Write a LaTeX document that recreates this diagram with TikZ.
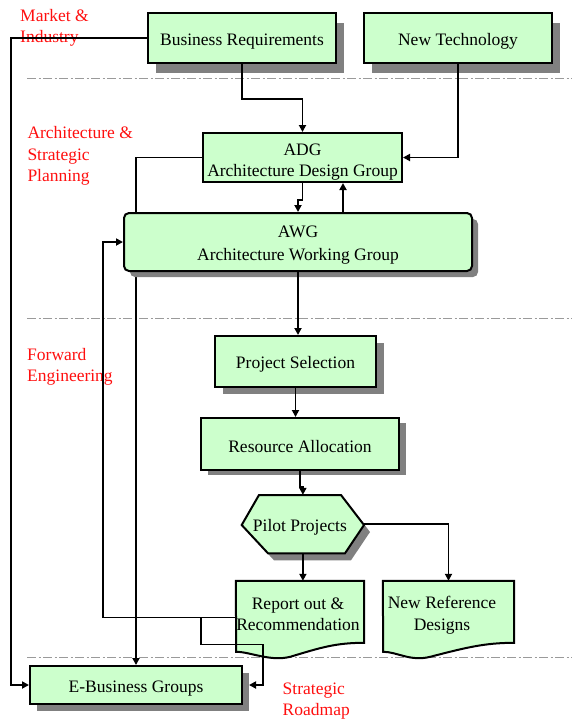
\documentclass[tikz,border=0pt]{standalone}
\usepackage{fontspec}
\setmainfont{Liberation Serif}
\usetikzlibrary{arrows.meta,shadows,calc}
\definecolor{boxgreen}{HTML}{CCFFCC}
\definecolor{shadowgray}{HTML}{808080}
\definecolor{labelred}{HTML}{FF0F0F}
\definecolor{sepgray}{HTML}{9A9A9A}
\newcommand{\tup}[1][18.5]{\rule{0pt}{#1pt}}
\begin{document}
\begin{tikzpicture}[x=1pt,y=-1pt,
  boxstyle/.style={draw=black, line width=2pt, fill=boxgreen, inner sep=0pt, align=center, font=\fontsize{17.5}{21}\selectfont},
  textonly/.style={inner sep=0pt, align=center, font=\fontsize{17.5}{21.5}\selectfont},
  shapeline/.style={draw=black, line width=2pt, fill=boxgreen},
  shad/.style 2 args={general shadow={fill=shadowgray, shadow xshift=#1pt, shadow yshift=-#2pt}},
  lbl/.style={text=labelred, align=left, anchor=north west, inner sep=0pt, font=\fontsize{17.5}{21.5}\selectfont},
  conn/.style={draw=black, line width=1.9pt},
  arr/.style={conn, -{Triangle[length=7pt,width=7pt]}},
  sepline/.style={draw=sepgray, line width=0.8pt, dash pattern=on 9pt off 2.5pt on 2pt off 2.5pt}
]
\useasboundingbox (0,0) rectangle (572,721);

% separators
\coordinate (s1a) at (27,78);   \coordinate (s1b) at (572,78);
\coordinate (s2a) at (27,318);  \coordinate (s2b) at (572,318);
\coordinate (s3a) at (27,657);  \coordinate (s3b) at (572,657);
\draw[sepline] (s1a) -- (s1b);
\draw[sepline] (s2a) -- (s2b);
\draw[sepline] (s3a) -- (s3b);

% red labels
\node[lbl] (lmarket) at (20,9) {Market \&\\Industry};
\node[lbl] (larch) at (27.3,126.5) {Architecture \&\\Strategic\\Planning};
\node[lbl] (lfwd) at (27,348) {Forward\\Engineering};
\node[lbl] (lroad) at (282.5,682.5) {Strategic\\Roadmap};

% boxes
\node[boxstyle, shad={8}{10}, minimum width=188pt, minimum height=50pt] (br) at (242,38) {\tup[19.5]Business Requirements};
\node[boxstyle, shad={8}{10}, minimum width=188pt, minimum height=50pt] (nt) at (458,38) {\tup[18.5]New Technology};
\node[boxstyle, minimum width=199pt, minimum height=49pt] (adg) at (302.5,157.5) {\tup[20]ADG\\Architecture Design Group};
\node[boxstyle, shad={7}{7}, minimum width=212pt, minimum height=38pt] (eb) at (136,685) {\tup[18.5]E-Business Groups};
\node[boxstyle, shad={8}{7}, minimum width=161pt, minimum height=51pt] (ps) at (295.5,361.5) {\tup[18.5]Project Selection};
\node[boxstyle, shad={7}{5}, minimum width=198pt, minimum height=52pt] (ra) at (300,444) {\tup[17]Resource Allocation};

% pilot hexagon
\fill[shadowgray] (247.7,532) -- (265,502) -- (347,502) -- (370,532) -- (351,560.3) -- (274,560.3) -- cycle;
\draw[shapeline] (241.7,525) -- (259,495) -- (341,495) -- (364,525) -- (345,553.3) -- (268,553.3) -- cycle;
\node[textonly, minimum width=122.3pt, minimum height=58.3pt] (pilot) at (302.9,524.2) {\tup[18]\hspace*{-6pt}Pilot Projects};

% document shapes
\node[textonly, minimum width=128pt, minimum height=65pt] (report) at (300,613.5) {};
\draw[shapeline] (report.north west) -- (report.north east) -- ++(0,62)
  .. controls +(-29,0) and +(30,-9) .. ++(-74,14)
  .. controls +(-20,5) and +(14,0) .. ++(-54,-5) -- cycle;
\node[textonly] (reporttext) at (298,614.5) {Report out \&\\Recommendation};
\node[textonly, minimum width=131pt, minimum height=65pt] (newref) at (448.5,613.5) {};
\draw[shapeline] (newref.north west) -- (newref.north east) -- ++(0,62)
  .. controls +(-30,0) and +(35,-9) .. ++(-84,14)
  .. controls +(-20,5) and +(14,0) .. ++(-47,-5) -- cycle;
\node[textonly] (newreftext) at (442,615) {New Reference\\Designs};

% connector passing behind AWG
\draw[arr] (adg.west) -| (eb.north);

% AWG
\node[boxstyle, rounded corners=5pt, shad={6}{6}, minimum width=348pt, minimum height=58pt, font=\fontsize{17.5}{23}\selectfont] (awg) at (298,242) {\tup[17.5]AWG\\Architecture Working Group};

% connectors
\coordinate (up) at (343,0);
\draw[arr] (br.west) -- ++(-136,0) |- (eb.west);
\draw[arr] (br.south) -- ++(0,35) -| (adg.north);
\draw[arr] (nt.south) |- (adg.east);
\draw[arr] (adg.south) -- ++(0,17) -| (awg.north);
\draw[arr] (awg.north -| up) -- (adg.south -| up);
\draw[arr] (awg.south) -- (awg.south |- ps.north);
\draw[arr] (ps.south) -- (ps.south |- ra.north);
\draw[arr] (ra.south) -- ++(0,16) -| (pilot.north);
\draw[arr] (pilot.south) -- (pilot.south |- report.north);
\draw[arr] (pilot.east) -| (newref.north);
\draw[arr] ([yshift=-4pt]report.west) -- ++(-133,0) |- (awg.west);
\draw[arr] ([shift={(-35pt,-4pt)}]report.west) -- ++(0,27) -- ++(62,0) |- ([xshift=6pt]eb.east);
\end{tikzpicture}
\end{document}
